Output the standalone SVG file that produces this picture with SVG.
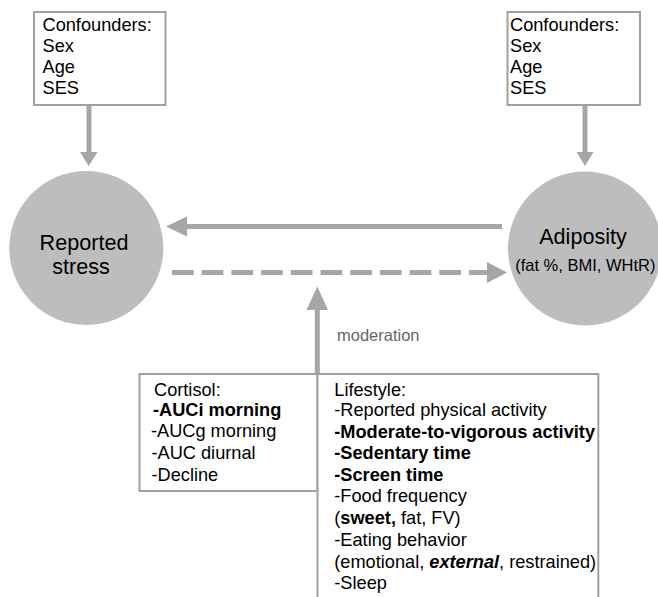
<svg xmlns="http://www.w3.org/2000/svg" width="658" height="597" viewBox="0 0 658 597">
<style>
text{font-family:"Liberation Sans",Arial,sans-serif;fill:#000}
.box{fill:#fff;stroke:#a0a0a0;stroke-width:2}
.node{fill:#bdbdbd}
.bt{font-size:18.2px}
.ct{font-size:21.6px}
.b{font-weight:bold}
.conn{stroke:#a6a6a6;stroke-width:5;fill:none}
.head{fill:#a6a6a6}
</style>
<rect width="658" height="597" fill="#fff"/>
<g id="connectors">
  <line class="conn" x1="89" y1="105" x2="89" y2="153"/>
  <polygon class="head" points="80,152 97.5,152 88.7,166"/>
  <line class="conn" x1="585" y1="105" x2="585" y2="153"/>
  <polygon class="head" points="576.5,152 593.5,152 585,166"/>
  <line class="conn" x1="186" y1="226.5" x2="502" y2="226.5"/>
  <polygon class="head" points="166,226.5 187,216.5 187,236.5"/>
  <line class="conn" x1="172" y1="272.5" x2="489" y2="272.5" stroke-dasharray="21.7 8"/>
  <polygon class="head" points="507,272.5 487,262 487,283"/>
  <line class="conn" x1="317.3" y1="309" x2="317.3" y2="373"/>
  <polygon class="head" points="317.3,286.5 306.5,310 328,310"/>
  <text x="337" y="340.5" style="font-size:16.5px;fill:#666">moderation</text>
</g>
<g id="confounders-left">
  <rect class="box" x="34" y="12" width="131.5" height="93"/>
  <text class="bt" x="42.5" y="30.5">Confounders:</text>
  <text class="bt" x="42.5" y="51.8">Sex</text>
  <text class="bt" x="42.5" y="73">Age</text>
  <text class="bt" x="42.5" y="94.3">SES</text>
</g>
<g id="confounders-right">
  <rect class="box" x="507.5" y="12" width="132.5" height="93"/>
  <text class="bt" x="510" y="30.5">Confounders:</text>
  <text class="bt" x="510" y="51.8">Sex</text>
  <text class="bt" x="510" y="73">Age</text>
  <text class="bt" x="510" y="94.3">SES</text>
</g>
<g id="reported-stress">
  <circle class="node" cx="86.3" cy="248" r="77"/>
  <text class="ct" x="84" y="250" text-anchor="middle">Reported</text>
  <text class="ct" x="81" y="274" text-anchor="middle">stress</text>
</g>
<g id="adiposity">
  <circle class="node" cx="585" cy="248.5" r="77"/>
  <text class="ct" x="583" y="244" text-anchor="middle">Adiposity</text>
  <text x="585.3" y="271" text-anchor="middle" style="font-size:16.5px">(fat %, BMI, WHtR)</text>
</g>
<g id="cortisol">
  <rect class="box" x="139.5" y="374" width="178" height="117"/>
  <text class="bt" x="154" y="395.8">Cortisol:</text>
  <text class="bt b" x="153" y="416">-AUCi morning</text>
  <text class="bt" x="151" y="437.3">-AUCg morning</text>
  <text class="bt" x="151.5" y="459">-AUC diurnal</text>
  <text class="bt" x="151.5" y="480.7">-Decline</text>
</g>
<g id="lifestyle">
  <rect class="box" x="317.5" y="374" width="280.8" height="240"/>
  <text class="bt" x="334.3" y="395.5">Lifestyle:</text>
  <text class="bt" x="334.3" y="416.3">-Reported physical activity</text>
  <text class="bt b" x="334.3" y="437.8">-Moderate-to-vigorous activity</text>
  <text class="bt b" x="334.3" y="459.3">-Sedentary time</text>
  <text class="bt b" x="334.3" y="480.8">-Screen time</text>
  <text class="bt" x="334.3" y="502.4">-Food frequency</text>
  <text class="bt" x="334.3" y="524.2">(<tspan class="b">sweet,</tspan> fat, FV)</text>
  <text class="bt" x="334.3" y="546">-Eating behavior</text>
  <text class="bt" x="334.3" y="567.6">(emotional, <tspan class="b" font-style="italic">external</tspan>, restrained)</text>
  <text class="bt" x="334.3" y="589.3">-Sleep</text>
</g>
</svg>
